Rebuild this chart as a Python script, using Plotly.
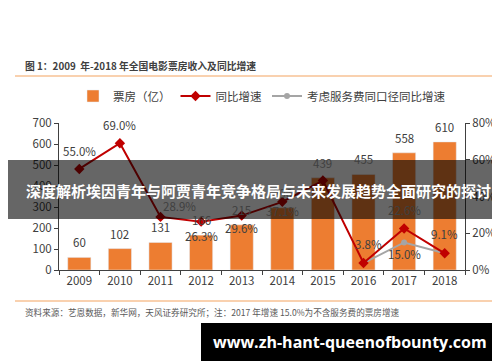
import plotly.graph_objects as go

years = ["2009", "2010", "2011", "2012", "2013", "2014", "2015", "2016", "2017", "2018"]
box_office = [60, 102, 131, 166, 215, 296, 439, 455, 558, 610]
growth = [0.550, 0.690, 0.289, 0.263, 0.296, 0.371, 0.487, 0.038, 0.226, 0.091]
growth_svc = [None, None, None, None, None, None, None, 0.038, 0.150, 0.091]
growth_text = ["55.0%", "69.0%", "28.9%", "26.3%", "29.6%", "37.1%", "", "3.8%", "22.6%", "9.1%"]
svc_text = ["", "", "", "", "", "", "", "", "15.0%", ""]

FONT = "Noto Sans CJK SC"
TXT = "#404040"
L, R, T, B = 51, 43, 115, 100
PW, PH = 500 - L - R, 362 - T - B


def px(x):
    return (x - L) / PW


def py(y):
    return (362 - B - y) / PH


fig = go.Figure()
fig.add_trace(go.Bar(
    x=years, y=box_office, name="票房（亿）", marker_color="#ED7D31",
))
fig.add_trace(go.Scatter(
    x=years, y=growth_svc, name="考虑服务费同口径同比增速", yaxis="y2",
    mode="lines+markers", line=dict(color="#A5A5A5", width=2),
    marker=dict(symbol="circle", size=6, color="#A5A5A5"),
))
fig.add_trace(go.Scatter(
    x=years, y=growth, name="同比增速", yaxis="y2",
    mode="lines+markers", line=dict(color="#C00000", width=2),
    marker=dict(symbol="diamond", size=8, color="#C00000"),
))

fig.update_layout(
    width=500, height=362,
    margin=dict(l=L, r=R, t=T, b=B, pad=0, autoexpand=False),
    paper_bgcolor="white", plot_bgcolor="white",
    font=dict(family=FONT, size=11.5, color=TXT),
    bargap=0.43,
    showlegend=True,
    legend=dict(orientation="h", x=0.5, xanchor="center", y=py(88), yanchor="middle",
                font=dict(size=11.5, color=TXT, family=FONT), itemwidth=30,
                traceorder="normal", bgcolor="rgba(0,0,0,0)"),
    xaxis=dict(type="category", range=[-0.5, len(years) - 0.5], showline=True,
               linecolor="#404040", linewidth=1,
               ticks="outside", tickson="boundaries", ticklen=4, tickcolor="#404040",
               showgrid=False, tickfont=dict(size=11.5, color=TXT), automargin=False),
    yaxis=dict(range=[0, 700], dtick=100, showline=True, linecolor="#404040",
               ticks="outside", ticklen=4, tickcolor="#404040", showgrid=False,
               zeroline=False, tickfont=dict(size=11.5, color=TXT), automargin=False),
    yaxis2=dict(range=[0, 0.8], dtick=0.2, tickformat=".0%", overlaying="y", side="right",
                showline=True, linecolor="#404040", ticks="outside", ticklen=4,
                tickcolor="#404040", showgrid=False, zeroline=False,
                tickfont=dict(size=11.5, color=TXT), automargin=False),
)

fig.data[0].legendrank = 1
fig.data[2].legendrank = 2
fig.data[1].legendrank = 3

shapes = [
    dict(type="line", xref="paper", yref="paper", x0=px(7), x1=px(492), y0=py(68), y1=py(68),
         line=dict(color="#F4A460", width=1.2)),
    dict(type="line", xref="paper", yref="paper", x0=px(7), x1=px(492), y0=py(293), y1=py(293),
         line=dict(color="#F4A460", width=1.2)),
    dict(type="rect", xref="paper", yref="paper", x0=px(-5), x1=px(505), y0=py(211), y1=py(152),
         fillcolor="rgba(0,0,0,0.6)", line=dict(width=0), layer="above"),
    dict(type="rect", xref="paper", yref="paper", x0=px(193), x1=px(491), y0=py(353), y1=py(315),
         fillcolor="black", line=dict(width=0), layer="above"),
]
fig.update_layout(shapes=shapes)

lab_font = dict(size=11.5, color=TXT, family=FONT)
annotations = []
# bar value labels (x given as category index)
for i, v in enumerate(box_office):
    annotations.append(dict(x=i, y=v, xref="x", yref="y", text=str(v), showarrow=False,
                            yanchor="middle", yshift=15, font=lab_font))
# growth labels: (xshift, yshift)
g_shift = [(0, 18), (0, 18), (19, 11), (0, -14), (0, -12), (0, -9), (0, 18), (5, 19), (0, 18), (0, 19)]
for i, (v, t, (dx, dy)) in enumerate(zip(growth, growth_text, g_shift)):
    if t:
        annotations.append(dict(x=i, y=v, xref="x", yref="y2", text=t, showarrow=False,
                                yanchor="middle", xshift=dx, yshift=dy, font=lab_font))
for i, (v, t) in enumerate(zip(growth_svc, svc_text)):
    if t:
        annotations.append(dict(x=i, y=v, xref="x", yref="y2", text=t, showarrow=False,
                                yanchor="middle", yshift=-12, font=lab_font))

annotations += [
    dict(text="<b>图 1：2009  年-2018 年全国电影票房收入及同比增速</b>", xref="paper", yref="paper",
         x=px(15), y=py(58), xanchor="left", yanchor="middle", showarrow=False,
         font=dict(size=9.8, color="#404040", family=FONT)),
    dict(text="资料来源：艺恩数据，新华网，天风证券研究所；注：2017 年增速 15.0%为不含服务费的票房增速",
         xref="paper", yref="paper", x=px(15), y=py(304), xanchor="left", yanchor="middle",
         showarrow=False, font=dict(size=8.6, color="#595959", family=FONT)),
    dict(text="<b>深度解析埃因青年与阿贾青年竞争格局与未来发展趋势全面研究的探讨</b>",
         xref="paper", yref="paper", x=px(250), y=py(182), xanchor="center", yanchor="middle",
         showarrow=False, font=dict(size=15, color="white", family=FONT)),
    dict(text="<b>www.zh-hant-queenofbounty.com</b>", xref="paper", yref="paper",
         x=px(342), y=py(334), xanchor="center", yanchor="middle", showarrow=False,
         font=dict(size=16, color="white", family="Open Sans")),
]
fig.update_layout(annotations=annotations)

fig.write_html("out.html")
